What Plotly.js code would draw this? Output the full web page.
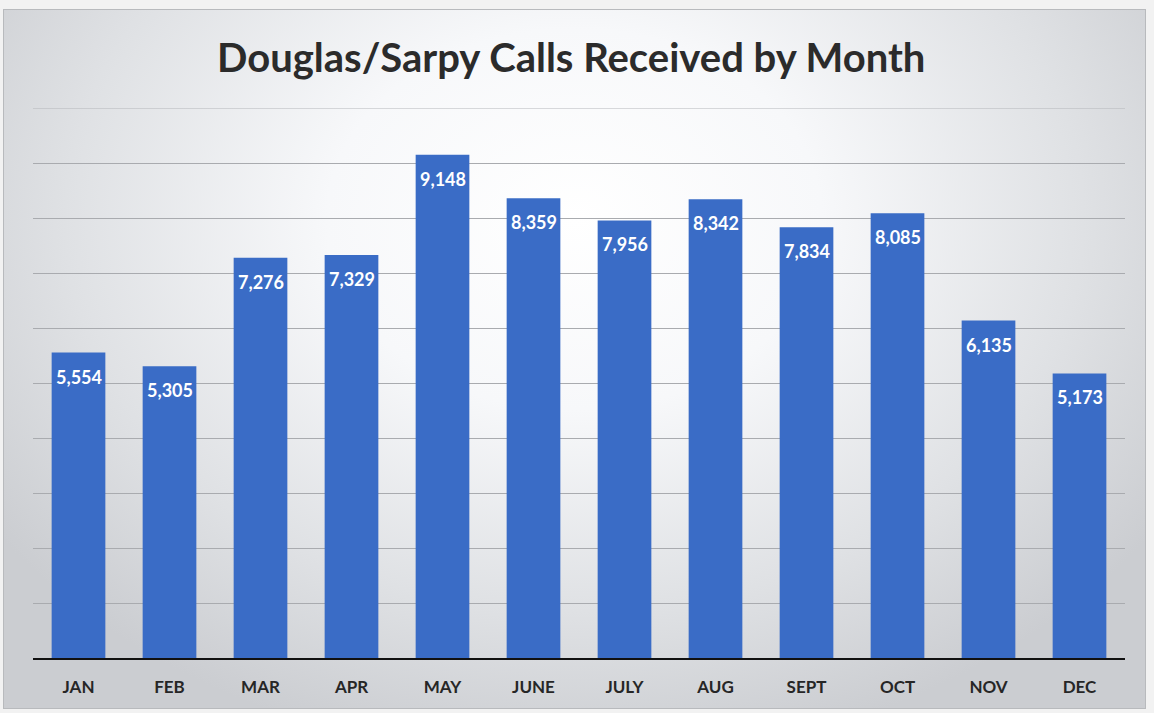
<!DOCTYPE html>
<html>
<head>
<meta charset="utf-8">
<script src="https://cdn.plot.ly/plotly-3.0.1.min.js"></script>
<style>
  html, body { margin: 0; padding: 0; background: #f4f4f4; }
  #wrap { position: relative; width: 1154px; height: 713px; overflow: hidden; background: #f2f2f2; }
  #bg {
    position: absolute; left: 3px; top: 9px; width: 1143px; height: 700px;
    border: 1px solid #b8babd; box-sizing: border-box;
    background: radial-gradient(ellipse 62% 78% at 50% 30%, #ffffff 0%, #f7f8fa 35%, #dfe1e4 72%, #cbcdd1 100%);
  }
  #chart { position: absolute; left: 0; top: 0; width: 1154px; height: 713px; }
</style>
</head>
<body>
<div id="wrap">
  <div id="bg"></div>
  <div id="chart"></div>
</div>
<script>
const months = ["JAN","FEB","MAR","APR","MAY","JUNE","JULY","AUG","SEPT","OCT","NOV","DEC"];
const calls = [5554, 5305, 7276, 7329, 9148, 8359, 7956, 8342, 7834, 8085, 6135, 5173];

const FONT = 'Lato, "Open Sans", sans-serif';

const trace = {
  type: 'bar',
  x: months,
  y: calls,
  marker: { color: '#3a6cc6' },
  hoverinfo: 'x+y'
};

const labels = months.map((m, i) => ({
  x: m,
  y: calls[i],
  xref: 'x', yref: 'y',
  text: calls[i].toLocaleString('en-US'),
  showarrow: false,
  yanchor: 'middle',
  yshift: -24,
  font: { family: FONT, size: 18, color: '#ffffff', weight: 'bold' }
}));

const layout = {
  width: 1154, height: 713,
  paper_bgcolor: 'rgba(0,0,0,0)',
  plot_bgcolor: 'rgba(0,0,0,0)',
  margin: { l: 33, r: 29, t: 108, b: 55 },
  bargap: 0.41,
  showlegend: false,
  title: {
    text: 'Douglas/Sarpy Calls Received by Month',
    font: { family: FONT, size: 40, color: '#2b2b2b', weight: 'bold' },
    x: 0.495, xanchor: 'center',
    y: 1 - 58/713, yref: 'container', yanchor: 'middle'
  },
  xaxis: {
    type: 'category',
    showgrid: false,
    showline: true, linecolor: '#111111', linewidth: 2,
    ticks: '',
    ticklabelstandoff: 13,
    tickfont: { family: FONT, size: 17, color: '#262626', weight: 'bold' },
    zeroline: false
  },
  yaxis: {
    range: [0, 10000],
    dtick: 1000,
    showticklabels: false,
    showgrid: true, gridcolor: '#a9abaf', gridwidth: 1,
    zeroline: false, showline: false, ticks: ''
  },
  shapes: [{
    type: 'line', xref: 'paper', yref: 'y', x0: 0, x1: 1, y0: 10000, y1: 10000,
    line: { color: '#b4b6b9', width: 1 }, layer: 'below'
  }],
  annotations: labels
};

Plotly.newPlot('chart', [trace], layout, { displayModeBar: false, staticPlot: true });
</script>
</body>
</html>
